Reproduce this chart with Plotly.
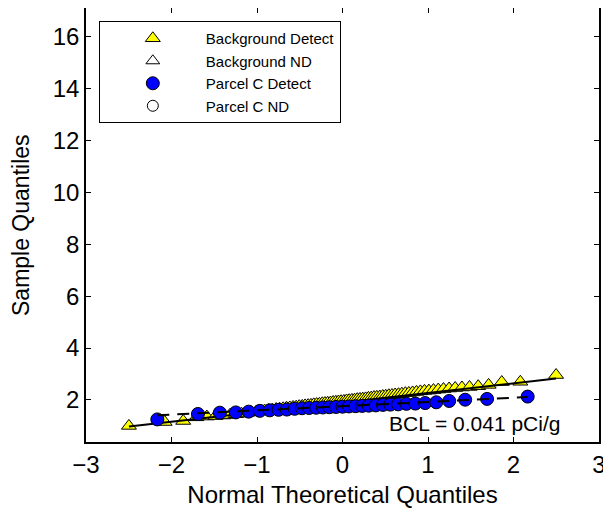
import plotly.graph_objects as go

# Background (detects): theoretical normal quantiles and sample quantiles
bg_x = [-2.498, -2.080, -1.863, -1.709, -1.587, -1.485, -1.397, -1.318, -1.247, -1.181,
        -1.120, -1.064, -1.010, -0.959, -0.911, -0.865, -0.820, -0.776, -0.735, -0.694,
        -0.655, -0.616, -0.579, -0.542, -0.506, -0.471, -0.437, -0.402, -0.369, -0.336,
        -0.303, -0.270, -0.237, -0.205, -0.173, -0.141, -0.110, -0.078, -0.047, -0.016,
        0.016, 0.047, 0.078, 0.110, 0.141, 0.173, 0.205, 0.237, 0.270, 0.303,
        0.336, 0.369, 0.402, 0.437, 0.471, 0.506, 0.542, 0.579, 0.616, 0.655,
        0.694, 0.735, 0.776, 0.820, 0.865, 0.911, 0.959, 1.010, 1.064, 1.120,
        1.181, 1.247, 1.318, 1.397, 1.485, 1.587, 1.709, 1.863, 2.080, 2.498]
bg_y = [1.00, 1.15, 1.19, 1.33, 1.36, 1.38, 1.40, 1.42, 1.45, 1.47,
        1.50, 1.52, 1.54, 1.57, 1.59, 1.61, 1.63, 1.65, 1.66, 1.68,
        1.70, 1.71, 1.73, 1.74, 1.76, 1.77, 1.79, 1.80, 1.81, 1.83,
        1.84, 1.85, 1.87, 1.88, 1.89, 1.90, 1.92, 1.93, 1.94, 1.95,
        1.96, 1.98, 1.99, 2.00, 2.01, 2.03, 2.04, 2.05, 2.06, 2.08,
        2.09, 2.11, 2.12, 2.13, 2.15, 2.16, 2.18, 2.19, 2.21, 2.22,
        2.24, 2.26, 2.27, 2.29, 2.31, 2.33, 2.35, 2.36, 2.38, 2.40,
        2.42, 2.44, 2.46, 2.48, 2.50, 2.53, 2.58, 2.69, 2.70, 2.96]

# Parcel C (detects)
pc_x = [-2.166, -1.691, -1.435, -1.248, -1.097, -0.967, -0.852, -0.748, -0.651, -0.559,
        -0.473, -0.390, -0.308, -0.230, -0.153, -0.076, 0.000, 0.076, 0.153, 0.230,
        0.308, 0.390, 0.473, 0.559, 0.651, 0.748, 0.852, 0.967, 1.097, 1.248,
        1.435, 1.691, 2.166]
pc_y = [1.25, 1.46, 1.51, 1.52, 1.55, 1.58, 1.60, 1.62, 1.63, 1.66,
        1.68, 1.69, 1.70, 1.71, 1.72, 1.73, 1.74, 1.75, 1.76, 1.77,
        1.78, 1.79, 1.81, 1.82, 1.83, 1.85, 1.86, 1.88, 1.91, 1.96,
        2.01, 2.04, 2.13]

# Reference lines
bg_line_x = [-2.498, 2.498]
bg_line_y = [0.975, 2.825]
pc_line_x = [-2.166, 2.166]
pc_line_y = [1.41, 2.11]

x_ticks = [-3, -2, -1, 0, 1, 2, 3]
y_ticks = [2, 4, 6, 8, 10, 12, 14, 16]

FONT = "Arial, Liberation Sans, Helvetica, sans-serif"

fig = go.Figure()
fig.add_trace(go.Scatter(x=bg_x, y=bg_y, mode="markers", name="Background Detect",
                         marker=dict(symbol="triangle-up", size=13, color="#FFFF00",
                                     line=dict(color="black", width=1))))
fig.add_trace(go.Scatter(x=[None], y=[None], mode="markers", name="Background ND",
                         marker=dict(symbol="triangle-up-open", size=12, color="black",
                                     line=dict(color="black", width=1))))
fig.add_trace(go.Scatter(x=bg_line_x, y=bg_line_y, mode="lines", showlegend=False,
                         line=dict(color="black", width=2)))
fig.add_trace(go.Scatter(x=pc_x, y=pc_y, mode="markers", name="Parcel C Detect",
                         marker=dict(symbol="circle", size=13, color="#0000FF",
                                     line=dict(color="black", width=1))))
fig.add_trace(go.Scatter(x=[None], y=[None], mode="markers", name="Parcel C ND",
                         marker=dict(symbol="circle-open", size=11, color="black",
                                     line=dict(color="black", width=1))))
fig.add_trace(go.Scatter(x=pc_line_x, y=pc_line_y, mode="lines", showlegend=False,
                         line=dict(color="black", width=2, dash="12px,8px")))

fig.add_annotation(x=2.57, y=1.08, xref="x", yref="y", text="BCL = 0.041 pCi/g",
                   showarrow=False, xanchor="right", yanchor="middle",
                   font=dict(family=FONT, size=21, color="black"))

# y-axis title placed as a rotated annotation so it can sit further left
fig.add_annotation(x=-0.1267, y=0.5, xref="paper", yref="paper", text="Sample Quantiles",
                   showarrow=False, xanchor="center", yanchor="middle", textangle=-90,
                   font=dict(family=FONT, size=23, color="black"))

axis_common = dict(showline=True, linecolor="black", linewidth=1.5, mirror="ticks",
                   ticks="inside", ticklen=5, tickcolor="black", showgrid=False,
                   zeroline=False, automargin=False,
                   tickfont=dict(family=FONT, size=24, color="black"))

fig.update_xaxes(range=[-3, 3], tickvals=x_ticks,
                 title=dict(text="Normal Theoretical Quantiles",
                            font=dict(family=FONT, size=24, color="black"), standoff=10),
                 **axis_common)
fig.update_yaxes(range=[0.38, 17.1], tickvals=y_ticks, **axis_common)

fig.update_layout(
    width=611, height=512,
    margin=dict(l=78, r=20, t=0, b=78),
    plot_bgcolor="white", paper_bgcolor="white",
    font=dict(family=FONT, color="black"),
    legend=dict(x=0.025, y=0.970, xanchor="left", yanchor="top",
                bgcolor="white", bordercolor="black", borderwidth=1,
                font=dict(family=FONT, size=15, color="black"),
                itemwidth=96, tracegroupgap=0),
)

fig.write_html("out.html")
